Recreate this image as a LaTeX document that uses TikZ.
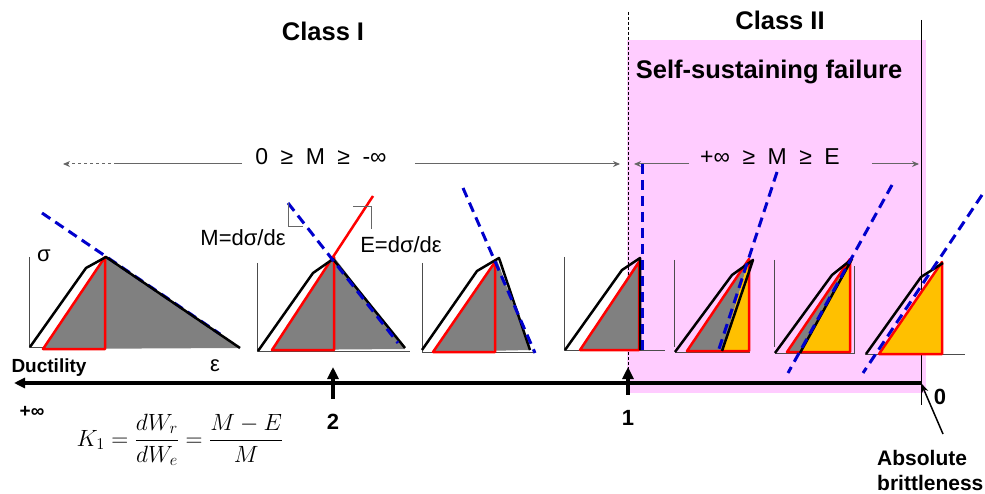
\documentclass[tikz,border=0pt]{standalone}
\usepackage{fix-cm}
\usepackage[no-math]{fontspec}
\setmainfont{Liberation Sans}
\usepackage{amsmath}
\usetikzlibrary{arrows.meta,positioning,calc}
\definecolor{pinkcol}{RGB}{255,204,255}
\definecolor{greycol}{RGB}{128,128,128}
\definecolor{yellowcol}{RGB}{255,192,0}
\definecolor{bluecol}{RGB}{0,0,204}
\definecolor{redcol}{RGB}{255,0,0}
\newcommand{\gap}{\hspace{12.5pt}}

\begin{document}
\begin{tikzpicture}[x=1pt, y=-1pt,
    >={Stealth[length=7pt, width=6pt]},
    title/.style={font=\fontsize{25.5}{29}\selectfont\bfseries},
    mrange/.style={font=\fontsize{23}{26}\selectfont},
    slope/.style={font=\fontsize{22}{25}\selectfont},
    digit/.style={font=\fontsize{22}{25}\selectfont\bfseries},
    note/.style={font=\fontsize{21}{25}\selectfont\bfseries, align=left},
    greek/.style={font=\fontsize{22}{25}\selectfont},
    axis/.style={line width=1pt, black!70},
    curve/.style={line width=2.5pt, black, line join=round},
    elastic/.style={line width=2.5pt, redcol, line join=round},
    tangent/.style={line width=3pt, bluecol, dash pattern=on 10pt off 6pt},
    rangeline/.style={line width=1pt, black!60},
    uparrow/.style={-{Triangle[length=12pt, width=11pt]}, line width=4pt},
]
\useasboundingbox (0,0) rectangle (985,494);

\fill[pinkcol] (627,40) rectangle (926,393);
\draw[line width=0.8pt, dash pattern=on 3pt off 2pt] (628,12) -- (628,372);
\draw[line width=1pt] (921,20) -- (921,405);

\node[title] (classI) at (323,31) {Class I};
\node[title] (classII) at (780,20) {Class II};
\node[title] (selfsus) at (769,72) {Self-sustaining failure};

% ranges of M
\coordinate (rItip) at (63,164);
\coordinate (rIdot) at (117,164);
\coordinate (rIend) at (620,164);
\node[mrange, inner xsep=0pt] (rangeI) at (321,157) {0\gap≥\gap M\gap≥\gap-∞};
\draw[rangeline, shorten <=13pt] (rangeI.west |- rIdot) -- (rIdot);
\draw[rangeline, ->, dash pattern=on 3pt off 3pt] (rIdot) -- (rItip);
\draw[rangeline, ->, shorten <=28pt] (rangeI.east |- rIend) -- (rIend);

\coordinate (rIIl) at (634,164);
\coordinate (rIIr) at (919,164);
\node[mrange, inner xsep=0pt] (rangeII) at (770,157) {+∞\gap≥\gap M\gap≥\gap E};
\draw[rangeline, ->, shorten <=11pt] (rangeII.west |- rIIl) -- (rIIl);
\draw[rangeline, ->, shorten <=32pt] (rangeII.east |- rIIr) -- (rIIr);

% panel 1
\draw[axis] (29,257) -- (29,347) -- (240,347);
\fill[greycol] (43,349) -- (106,257) -- (240,348) -- cycle;
\draw[tangent] (42,213) -- (220,334);
\draw[elastic] (43,349) -- (105,257) -- (105,349) -- cycle;
\draw[curve] (30,347) -- (86,268) -- (106,257) -- (240,348);
\node[greek] (sigma) at (44,256) {σ};
\node[greek] (eps) at (215,366) {ε};

% panel 2
\draw[axis] (257,263) -- (257,351) -- (410,351);
\fill[greycol] (272,350) -- (334,257) -- (405,349) -- cycle;
\draw[elastic] (334,257) -- (334,350) -- (272,350) -- (373,196);
\draw[curve] (258,351) -- (313,273) -- (333,259) -- (405,348);
\draw[tangent] (288,203) -- (398,343);
\draw[line width=0.8pt, black!60] (288,203) -- (288,226) -- (303,226);
\draw[line width=0.8pt, black!60] (353,206) -- (371,206) -- (371,229);
\node[slope] (mslope) at (243,238) {M=dσ/dε};
\node[slope] (eslope) at (401,245) {E=dσ/dε};

% panel 3
\draw[axis] (422,263) -- (422,352) -- (533,352);
\fill[greycol] (433,352) -- (497,260) -- (530,350) -- cycle;
\draw[elastic] (433,352) -- (495,262) -- (495,352) -- cycle;
\draw[curve] (422,350) -- (477,271) -- (499,258) -- (530,350);
\draw[tangent] (463,188) -- (535,353);

% panel 4
\draw[axis] (564,257) -- (564,350) -- (665,350);
\fill[greycol] (580,350) -- (640,258) -- (640,350) -- cycle;
\draw[elastic] (580,350) -- (639,262) -- (639,350) -- cycle;
\draw[curve] (565,350) -- (622,270) -- (640,258) -- (640,350);
\draw[tangent] (642,164) -- (642,350);

% panel 5
\draw[axis] (674,260) -- (674,347);
\draw[axis] (675,352) -- (750,352);
\fill[greycol] (687,351) -- (749,259) -- (722,351) -- cycle;
\fill[yellowcol] (722,351) -- (749,259) -- (749,351) -- cycle;
\draw[elastic] (687,351) -- (749,259) -- (749,351) -- cycle;
\draw[curve] (675,352) -- (732,275) -- (753,260) -- (722,351);
\draw[tangent] (777,172) -- (718,352);

% panel 6
\draw[axis] (774,260) -- (774,347);
\draw[axis] (775,353) -- (854,353) -- (854,266);
\fill[greycol] (787,352) -- (850,259) -- (800,352) -- cycle;
\fill[yellowcol] (800,352) -- (850,259) -- (850,352) -- cycle;
\draw[elastic] (787,352) -- (850,259) -- (850,352) -- cycle;
\draw[curve] (775,353) -- (832,275) -- (852,259) -- (800,353);
\draw[tangent] (892,185) -- (788,373);

% panel 7
\draw[axis] (865,354) -- (965,354);
\fill[yellowcol] (879,354) -- (942,262) -- (942,354) -- cycle;
\draw[elastic] (879,354) -- (942,262) -- (942,354) -- cycle;
\draw[curve] (866,354) -- (921,277) -- (943,263);
\draw[tangent] (982,195) -- (863,373);

% ductility axis
\coordinate (brittle) at (921,383);
\coordinate (ductile) at (14,383);
\draw[line width=3.5pt, -{Triangle[length=11pt, width=10pt]}] (brittle) -- (ductile);
\node[font=\fontsize{19}{22}\selectfont\bfseries] (ductility) at (49,368) {Ductility};
\node[font=\fontsize{19}{22}\selectfont\bfseries] (infty) at (32,412) {+∞};

\coordinate (twotip) at (333,367);
\node[digit] (two) at (333,422) {2};
\draw[uparrow, shorten <=12pt] (two.north) -- (twotip);
\coordinate (onetip) at (628,367);
\node[digit] (one) at (628,418) {1};
\draw[uparrow, shorten <=12pt] (one.north) -- (onetip);
\node[digit] (zero) at (940,397) {0};

\node[note, anchor=west, inner xsep=0pt] (absolute) at (877,470) {Absolute\\brittleness};
\coordinate (abstail) at (943,434);
\draw[line width=1.5pt, -{Stealth[length=10pt, width=7pt]}] (abstail) -- (brittle);

\node[font=\fontsize{23.5}{27}\selectfont] (kone) at (180,440)
  {$K_1=\dfrac{dW_r}{dW_e}=\dfrac{M-E}{M}$};
\end{tikzpicture}
\end{document}
